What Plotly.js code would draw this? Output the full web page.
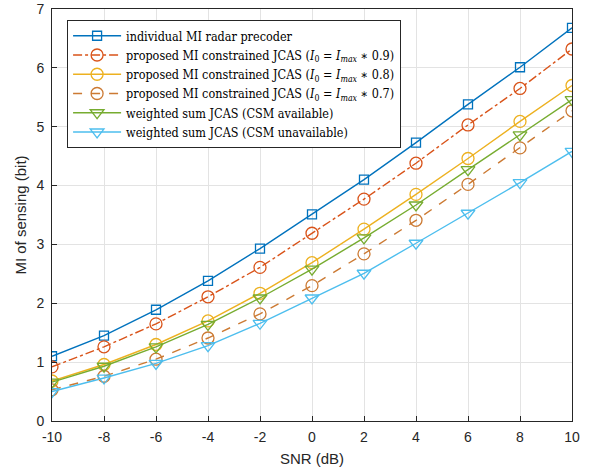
<!DOCTYPE html>
<html>
<head>
<meta charset="utf-8">
<script src="https://cdn.plot.ly/plotly-3.0.1.min.js"></script>
<style>html,body{margin:0;padding:0;background:#fff;}#chart{width:595px;height:474px;}</style>
</head>
<body>
<div id="chart"></div>
<script>
const snr = [-10, -8, -6, -4, -2, 0, 2, 4, 6, 8, 10];
const individualMI = [1.10, 1.45, 1.89, 2.38, 2.93, 3.51, 4.10, 4.73, 5.38, 6.01, 6.68];
const proposed09 = [0.92, 1.26, 1.65, 2.11, 2.61, 3.19, 3.77, 4.38, 5.03, 5.65, 6.32];
const proposed08 = [0.68, 0.96, 1.30, 1.70, 2.17, 2.69, 3.26, 3.85, 4.46, 5.09, 5.70];
const proposed07 = [0.53, 0.76, 1.05, 1.41, 1.82, 2.30, 2.84, 3.41, 4.02, 4.64, 5.27];
const wsAvailable = [0.66, 0.93, 1.26, 1.64, 2.09, 2.58, 3.11, 3.67, 4.27, 4.86, 5.46];
const wsUnavailable = [0.50, 0.73, 0.98, 1.28, 1.66, 2.09, 2.51, 3.02, 3.53, 4.05, 4.58];
const names = [
  'individual MI radar precoder',
  'proposed MI constrained JCAS (<i>I</i><sub>0</sub> = <i>I<sub>max</sub></i> ∗ 0.9)',
  'proposed MI constrained JCAS (<i>I</i><sub>0</sub> = <i>I<sub>max</sub></i> ∗ 0.8)',
  'proposed MI constrained JCAS (<i>I</i><sub>0</sub> = <i>I<sub>max</sub></i> ∗ 0.7)',
  'weighted sum JCAS (CSM available)',
  'weighted sum JCAS (CSM unavailable)'
];
const xTicks = [-10, -8, -6, -4, -2, 0, 2, 4, 6, 8, 10];
const yTicks = [0, 1, 2, 3, 4, 5, 6, 7];

function tr(y, name, color, dash, symbol, size) {
  return {
    x: snr, y: y, name: name, type: 'scatter', mode: 'lines+markers',
    line: {color: color, width: 1.4, dash: dash},
    marker: {symbol: symbol, size: size, color: color, line: {color: color, width: 1.3}}
  };
}
const data = [
  tr(individualMI, names[0], '#0072BD', 'solid', 'square-open', 9),
  tr(proposed09, names[1], '#D95319', 'dashdot', 'circle-open', 12),
  tr(proposed08, names[2], '#EDB120', 'solid', 'circle-open', 12),
  tr(proposed07, names[3], '#CC7A33', 'dash', 'circle-open', 12),
  tr(wsAvailable, names[4], '#77AC30', 'solid', 'triangle-down-open', 12),
  tr(wsUnavailable, names[5], '#4DBEEE', 'solid', 'triangle-down-open', 12)
];
const axisCommon = {
  showline: true, mirror: true, linecolor: '#262626', linewidth: 1,
  ticks: 'inside', ticklen: 5, tickcolor: '#262626',
  showgrid: true, gridcolor: '#e3e3e3', gridwidth: 1, zeroline: false,
  tickfont: {family: 'Liberation Sans, Arial, sans-serif', size: 14, color: '#262626'}
};
const layout = {
  width: 595, height: 474,
  margin: {l: 52, r: 23, t: 9, b: 53},
  paper_bgcolor: '#fff', plot_bgcolor: '#fff',
  xaxis: Object.assign({}, axisCommon, {
    range: [-10, 10], tickvals: xTicks, ticktext: xTicks.map(String),
    ticklabelstandoff: 3,
    title: {text: 'SNR (dB)', font: {family: 'Liberation Sans, Arial, sans-serif', size: 15, color: '#262626'}, standoff: 9}
  }),
  yaxis: Object.assign({}, axisCommon, {
    range: [0, 7], tickvals: yTicks, ticktext: yTicks.map(String),
    ticklabelstandoff: 4,
    title: {text: 'MI of sensing (bit)', font: {family: 'Liberation Sans, Arial, sans-serif', size: 15, color: '#262626'}, standoff: 6}
  }),
  showlegend: true,
  legend: {
    x: 0.029, y: 0.973, xanchor: 'left', yanchor: 'top',
    bgcolor: '#fff', bordercolor: '#262626', borderwidth: 1,
    font: {family: 'DejaVu Serif Condensed, DejaVu Serif, serif', size: 12.5, color: '#000'},
    tracegroupgap: 0, itemwidth: 48
  }
};
Plotly.newPlot('chart', data, layout, {displayModeBar: false, staticPlot: true});
</script>
</body>
</html>
